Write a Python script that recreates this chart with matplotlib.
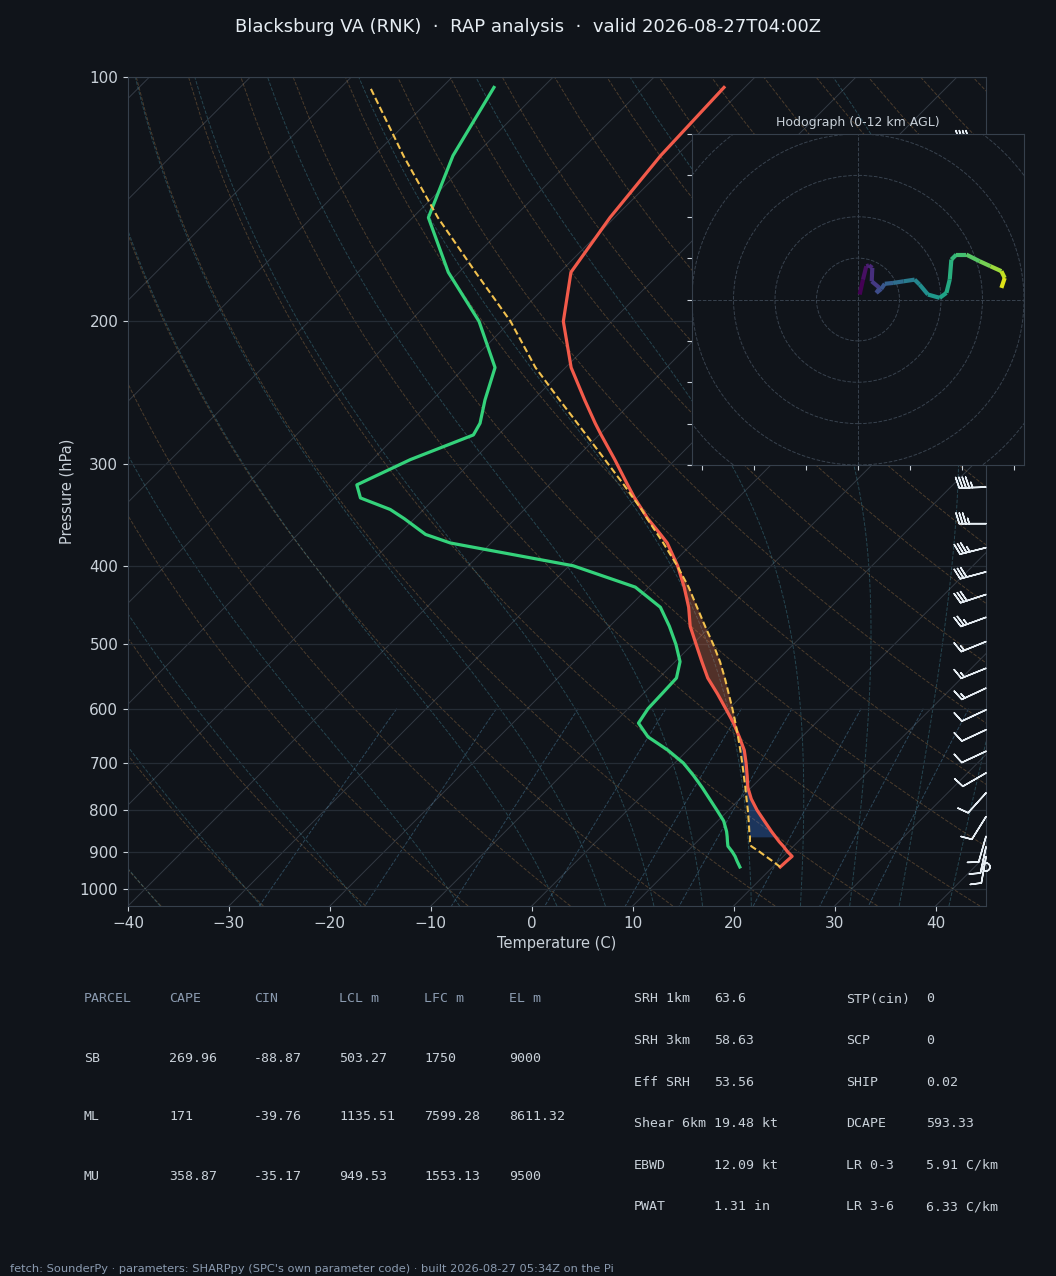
import numpy as np
import matplotlib
matplotlib.use("Agg")
import matplotlib.pyplot as plt
import matplotlib.transforms as mtransforms
from matplotlib.collections import LineCollection
from matplotlib.patches import Circle
from matplotlib.ticker import NullLocator

# ---- sounding: pressure (hPa), temperature / dewpoint / surface parcel (C) ----
pres = np.array([940, 925, 912, 900, 886, 875, 863, 850, 825, 800, 775, 750, 725,
                 700, 675, 650, 625, 600, 575, 550, 525, 500, 475, 450, 425, 400,
                 375, 366, 350, 341, 330, 318, 296, 276, 267, 250, 228, 200, 174,
                 149, 125, 103])
temp = np.array([20.75, 20.8, 20.87, 19.95, 18.98, 18.15, 17.3, 16.37, 14.62, 12.82, 11.14, 9.65, 8.4,
                 7.07, 5.62, 3.81, 1.87, -0.33, -2.64, -5.15, -7.36, -9.63, -12.01, -14.05, -16.49, -19.26,
                 -22.54, -24.05, -26.87, -28.37, -30.24, -32.22, -36.0, -39.79, -41.54, -44.88, -49.44, -54.79, -58.9,
                 -60.45, -61.57, -62.05])
dwpt = np.array([16.75, 15.92, 15.22, 14.47, 13.5, 13.02, 12.51, 11.92, 10.59, 8.84, 7.01, 5.12, 3.08,
                 0.86, -1.94, -5.23, -7.55, -8.03, -8.13, -8.25, -9.52, -11.63, -14.07, -16.85, -21.33, -29.61,
                 -44.02, -47.33, -51.0, -53.3, -57.4, -59.05, -56.25, -52.45, -52.95, -54.76, -56.98, -63.14, -71.05,
                 -78.44, -82.14, -84.84])
parcel = np.array([20.75, 19.45, 18.26, 17.17, 15.8, 15.24, 14.77, 14.17, 13.07, 11.91, 10.67, 9.41, 8.07,
                   6.69, 5.23, 3.69, 2.06, 0.33, -1.52, -3.46, -5.56, -7.93, -10.53, -13.22, -16.05, -19.3,
                   -22.93, -24.34, -26.94, -28.4, -30.38, -32.59, -36.98, -41.27, -43.31, -47.36, -52.97, -60.02, -68.35,
                   -77.5, -87.05, -97.1])

# wind barbs (kt, direction from)
barb_p = [940, 913, 888, 862, 815, 762, 720, 677, 637, 602, 566, 535, 496, 463, 434, 407, 380, 355,
          320, 290, 260, 230, 200, 175, 150, 120]
barb_spd = [0, 10, 10, 10, 10, 10, 10, 10, 10, 10, 15, 15, 15, 25, 30, 30, 35, 35,
            45, 50, 55, 60, 60, 55, 50, 45]
barb_dir = [0, 190, 192, 196, 212, 222, 240, 245, 245, 245, 245, 248, 248, 250, 252, 255, 256, 270,
            268, 265, 265, 265, 268, 270, 270, 270]

# hodograph 0-12 km (km AGL, kt)
hodo_z = [0.0, 0.5, 1.0, 1.3, 1.6, 2.0, 2.4, 2.8, 3.2, 3.7, 4.3, 5.0, 5.5, 5.9, 6.4, 6.9, 7.3,
          7.6, 8.0, 8.4, 8.9, 9.5, 10.2, 10.9, 11.4, 12.0]
hodo_u = [0.8, 2.4, 4.0, 5.3, 6.9, 6.6, 10.4, 8.8, 11.2, 12.9, 16.9, 22.0, 27.3, 29.7, 33.7, 39.4, 42.6,
          44.2, 45.0, 47.4, 52.2, 58.6, 63.8, 69.1, 70.7, 69.1]
hodo_v = [2.4, 9.6, 16.1, 16.5, 15.3, 8.8, 5.6, 3.2, 5.1, 7.6, 8.0, 8.8, 9.6, 7.2, 2.4, 0.8, 3.2,
          9.6, 19.3, 21.7, 21.7, 18.5, 16.1, 13.7, 10.4, 5.6]

# parameter tables
tbl_head = ['PARCEL', 'CAPE', 'CIN', 'LCL m', 'LFC m', 'EL m']
tbl_parcels = ['SB', 'ML', 'MU']
tbl_cape = [269.96, 171, 358.87]
tbl_cin = [-88.87, -39.76, -35.17]
tbl_lcl = [503.27, 1135.51, 949.53]
tbl_lfc = [1750, 7599.28, 1553.13]
tbl_el = [9000, 8611.32, 9500]
idx_left = ['SRH 1km', 'SRH 3km', 'Eff SRH', 'Shear 6km', 'EBWD', 'PWAT']
idx_left_val = ['63.6', '58.63', '53.56', '19.48 kt', '12.09 kt', '1.31 in']
idx_right = ['STP(cin)', 'SCP', 'SHIP', 'DCAPE', 'LR 0-3', 'LR 3-6']
idx_right_val = ['0', '0', '0.02', '593.33', '5.91 C/km', '6.33 C/km']

title = 'Blacksburg VA (RNK)  \u00b7  RAP analysis  \u00b7  valid 2026-08-27T04:00Z'
footer = ("fetch: SounderPy \u00b7 parameters: SHARPpy (SPC's own parameter code) \u00b7 "
          "built 2026-08-27 05:34Z on the Pi")

BG = '#10141a'
FG = '#c9d1d9'
DIM = '#8b9bb0'
GRID = '#252c35'
SPINE = '#36404c'

fig = plt.figure(figsize=(10.56, 12.76), dpi=100, facecolor=BG)
ax = fig.add_axes([128 / 1056, 370 / 1276, 858 / 1056, 829 / 1276], facecolor=BG)
ax.set_yscale('log')
ax.set_xlim(-40, 45)
ax.set_ylim(1050, 100)

# skew-T: shear in axes space so isotherms run at 45 degrees on screen
pos = ax.get_position()
k = (pos.height * 12.76) / (pos.width * 10.56)
skew = ax.transScale + ax.transLimits + mtransforms.Affine2D().skew(np.arctan(k), 0) + ax.transAxes

# ---- background lines ----
for t in np.arange(-120, 50, 10):
    ax.plot([t, t], [1050, 100], transform=skew, color='#333a44', lw=0.7, zorder=1)

p_bg = np.linspace(1050, 100, 80)
dry = [np.column_stack(((t0 + 273.15) * (p_bg / 1000.0) ** 0.2857 - 273.15, p_bg))
       for t0 in np.arange(-40, 250, 10)]
ax.add_collection(LineCollection(dry, transform=skew, colors='#b8864e', alpha=0.35,
                                 linestyles='dashed', lw=0.7, zorder=1), autolim=False)


def dtdlnp(T, p):
    es = 6.112 * np.exp(17.67 * (T - 273.15) / (T - 29.65))
    rs = 0.622 * es / (p - es)
    return (287.04 * T + 2.501e6 * rs) / (1005.7 + 2.501e6 ** 2 * rs * 0.622 / (287.04 * T * T))


def moist(t0, ps):
    T = np.asarray(t0, float) + 273.15
    out = [T.copy()]
    for pa, pb in zip(ps[:-1], ps[1:]):
        h = np.log(pb) - np.log(pa)
        pm = np.sqrt(pa * pb)
        k1 = dtdlnp(T, pa)
        k2 = dtdlnp(T + 0.5 * h * k1, pm)
        k3 = dtdlnp(T + 0.5 * h * k2, pm)
        k4 = dtdlnp(T + h * k3, pb)
        T = T + h / 6 * (k1 + 2 * k2 + 2 * k3 + k4)
        out.append(T.copy())
    return np.array(out) - 273.15


t0_moist = np.concatenate((np.arange(-40, 0, 10), np.arange(0, 46, 5)))
p_up = np.geomspace(1000, 100, 120)
p_dn = np.geomspace(1000, 1050, 6)
t_up = moist(t0_moist, p_up)
t_dn = moist(t0_moist, p_dn)
p_m = np.concatenate((p_dn[::-1], p_up[1:]))
wet = [np.column_stack((np.concatenate((t_dn[::-1, i], t_up[1:, i])), p_m)) for i in range(len(t0_moist))]
ax.add_collection(LineCollection(wet, transform=skew, colors='#4d9fb3', alpha=0.35,
                                 linestyles='dashed', lw=0.7, zorder=1), autolim=False)

p_w = np.linspace(600, 1050, 30)
mix = []
for w in [0.0004, 0.001, 0.002, 0.004, 0.007, 0.01, 0.016, 0.024, 0.032]:
    e = p_w * w / (0.622 + w)
    a = np.log(e / 6.112)
    mix.append(np.column_stack((243.5 * a / (17.67 - a), p_w)))
ax.add_collection(LineCollection(mix, transform=skew, colors='#4f86a8', alpha=0.45,
                                 linestyles='dashed', lw=0.7, zorder=1), autolim=False)

# ---- CAPE / CIN ----
ax.fill_betweenx(pres, temp, parcel, where=parcel > temp, interpolate=True,
                 transform=skew, color='#e0704a', alpha=0.32, lw=0, zorder=2)
ax.fill_betweenx(pres, temp, parcel, where=(parcel < temp) & (pres <= 863) & (pres >= 640),
                 interpolate=True, transform=skew, color='#3b82f6', alpha=0.3, lw=0, zorder=2)

# ---- profiles ----
ax.plot(temp, pres, transform=skew, color='#f25a4a', lw=2.3, zorder=3)
ax.plot(dwpt, pres, transform=skew, color='#34d27b', lw=2.3, zorder=3)
ax.plot(parcel, pres, transform=skew, color='#f2c14e', lw=1.5, ls=(0, (3.2, 1.6)), zorder=3)

# ---- barbs on the right edge ----
bd = np.radians(barb_dir)
bu = -np.array(barb_spd) * np.sin(bd)
bv = -np.array(barb_spd) * np.cos(bd)
btr = mtransforms.blended_transform_factory(ax.transAxes, ax.transData)
ax.barbs(np.ones(len(barb_p)), barb_p, bu, bv, transform=btr, length=6.2,
         color='#e6edf3', linewidth=1.1, clip_on=False, zorder=5)

# ---- axes cosmetics ----
ax.set_xlim(-40, 45)
ax.set_ylim(1050, 100)
ax.set_xticks(np.arange(-40, 41, 10))
ax.set_yticks(np.arange(100, 1001, 100))
ax.set_yticklabels([str(v) for v in range(100, 1001, 100)])
ax.yaxis.set_minor_locator(NullLocator())
ax.yaxis.grid(True, color=GRID, lw=0.9)
ax.tick_params(colors=FG, labelsize=11, length=3.5)
for s in ax.spines.values():
    s.set_color(SPINE)
ax.set_xlabel('Temperature (C)', color=FG, fontsize=10.5)
ax.set_ylabel('Pressure (hPa)', color=FG, fontsize=10.5)

# ---- hodograph inset ----
hax = fig.add_axes([692 / 1056, 811 / 1276, 332 / 1056, 331 / 1276], facecolor=BG)
hax.set_xlim(-80, 80)
hax.set_ylim(-80, 80)
for r in [20, 40, 60, 80, 100]:
    hax.add_patch(Circle((0, 0), r, fill=False, ls='--', lw=0.7, ec='#38424e'))
hax.axhline(0, color='#38424e', ls='--', lw=0.7)
hax.axvline(0, color='#38424e', ls='--', lw=0.7)
pts = np.column_stack((hodo_u, hodo_v))
segs = np.stack((pts[:-1], pts[1:]), axis=1)
lc = LineCollection(segs, cmap='viridis', norm=plt.Normalize(0, 12), lw=3, zorder=3)
lc.set_array(np.array(hodo_z[:-1]))
hax.add_collection(lc)
hax.set_xticks(np.arange(-75, 76, 25))
hax.set_yticks(np.arange(-80, 81, 20))
hax.set_xticklabels([])
hax.set_yticklabels([])
hax.tick_params(colors=FG, length=3.5)
for s in hax.spines.values():
    s.set_color(SPINE)
hax.set_title('Hodograph (0-12 km AGL)', color=FG, fontsize=9, pad=6)

# ---- text ----
fig.text(0.5, 1 - 27 / 1276, title, ha='center', va='center', color='#e6edf3', fontsize=13)

mono = 'DejaVu Sans Mono'
col_x = [84, 169, 254, 339, 424, 509]
for j, h in enumerate(tbl_head):
    fig.text(col_x[j] / 1056, 1 - 999 / 1276, h, family=mono, fontsize=9.5, color=DIM, va='center')
for i, name in enumerate(tbl_parcels):
    y = 1 - (1058 + 59 * i) / 1276
    vals = [name] + [f'{v:g}' for v in (tbl_cape[i], tbl_cin[i], tbl_lcl[i], tbl_lfc[i], tbl_el[i])]
    for j, v in enumerate(vals):
        fig.text(col_x[j] / 1056, y, v, family=mono, fontsize=9.5, color=FG, va='center')

for i in range(len(idx_left)):
    y = 1 - (999 + 41.6 * i) / 1276
    fig.text(634 / 1056, y, idx_left[i], family=mono, fontsize=9.5, color=FG, va='center')
    fig.text(714 / 1056, y, idx_left_val[i], family=mono, fontsize=9.5, color=FG, va='center')
    fig.text(846 / 1056, y, idx_right[i], family=mono, fontsize=9.5, color=FG, va='center')
    fig.text(926 / 1056, y, idx_right_val[i], family=mono, fontsize=9.5, color=FG, va='center')

fig.text(10 / 1056, 1 - 1269 / 1276, footer, fontsize=8.2, color=DIM, va='center')

fig.savefig('out.png', dpi=100, facecolor=BG)
